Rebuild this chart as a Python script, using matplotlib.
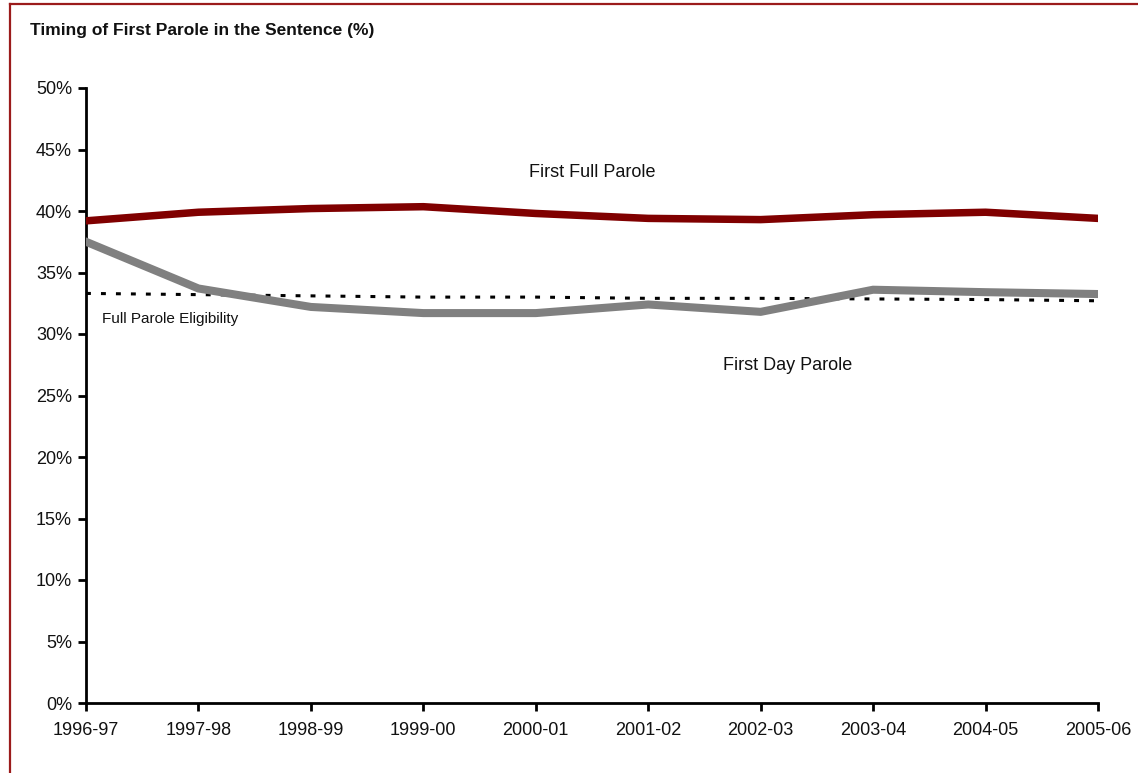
import matplotlib.pyplot as plt
from matplotlib.lines import Line2D
from matplotlib.ticker import FuncFormatter

plt.rcParams['font.family'] = ['Liberation Sans Narrow', 'Liberation Sans', 'DejaVu Sans']

years = ['1996-97', '1997-98', '1998-99', '1999-00', '2000-01',
         '2001-02', '2002-03', '2003-04', '2004-05', '2005-06']
first_full = [39.2, 39.9, 40.2, 40.35, 39.8, 39.4, 39.3, 39.7, 39.9, 39.4]
first_day = [37.5, 33.7, 32.2, 31.7, 31.7, 32.4, 31.8, 33.6, 33.4, 33.25]
eligibility = [33.3, 33.2, 33.1, 33.0, 33.0, 32.9, 32.9, 32.85, 32.8, 32.7]

fig = plt.figure(figsize=(11.38, 7.73), dpi=100)
ax = fig.add_axes([86 / 1138, 70 / 773, 1012 / 1138, 615 / 773])

x = range(len(years))
ax.plot(x, eligibility, color='black', lw=2.2, linestyle=(0, (1.6, 3.3)), zorder=2)
ax.plot(x, first_day, color='#808080', lw=5.8, solid_joinstyle='miter', zorder=3)
ax.plot(x, first_full, color='#800000', lw=5.4, solid_joinstyle='miter', zorder=4)

ax.set_xlim(0, len(years) - 1)
ax.set_ylim(0, 50)
ax.set_xticks(list(x))
ax.set_xticklabels(years)
ax.set_yticks(range(0, 51, 5))
ax.yaxis.set_major_formatter(FuncFormatter(lambda v, p: '%d%%' % v))
ax.tick_params(labelsize=13, width=2, length=6, color='black', labelcolor='#111111')
ax.tick_params(axis='x', pad=8)
ax.tick_params(axis='y', pad=4)
for side in ['top', 'right']:
    ax.spines[side].set_visible(False)
for side in ['left', 'bottom']:
    ax.spines[side].set_linewidth(2)

# labels on the lines
ax.text(4.5, 43.1, 'First Full Parole', ha='center', va='center', fontsize=13, color='#111111')
ax.text(6.24, 27.4, 'First Day Parole', ha='center', va='center', fontsize=13, color='#111111')
ax.text(0.14, 31.25, 'Full Parole Eligibility', ha='left', va='center', fontsize=11, color='#111111')

fig.text(30 / 1138, 1 - 30 / 773, 'Timing of First Parole in the Sentence (%)',
         ha='left', va='center', fontsize=12.5, fontweight='bold', color='#111111')

# border (left and top edges visible)
border = '#9b1b1b'
fig.add_artist(Line2D([9.5 / 1138, 9.5 / 1138], [0, 1 - 4 / 773], transform=fig.transFigure,
                      color=border, lw=1.6))
fig.add_artist(Line2D([9.5 / 1138, 1], [1 - 4 / 773, 1 - 4 / 773], transform=fig.transFigure,
                      color=border, lw=1.6))

fig.savefig('out.png', dpi=100)
